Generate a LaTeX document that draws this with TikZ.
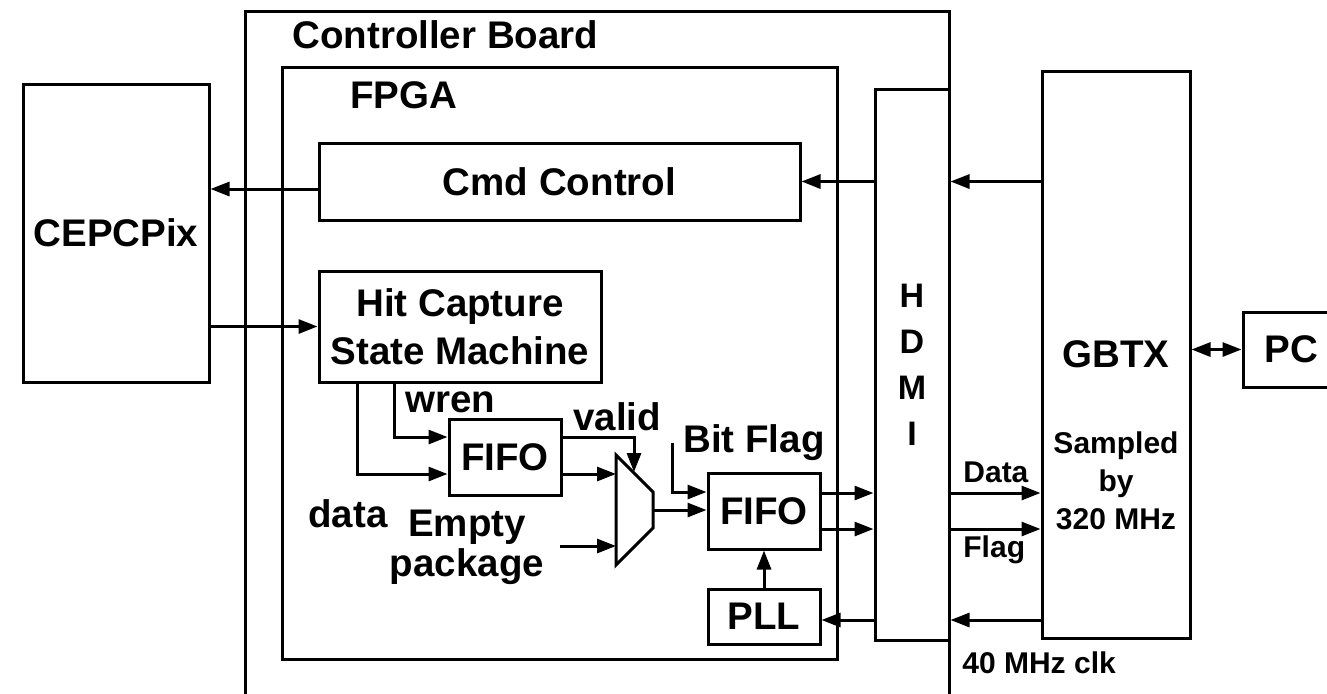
\documentclass[tikz,border=0pt]{standalone}
\usepackage{fontspec}
\setmainfont{Liberation Sans}
\usepackage{tikz}
\usetikzlibrary{arrows.meta, positioning, calc}

\newcommand{\mainsz}{\fontsize{19.25pt}{24pt}\selectfont\bfseries}
\newcommand{\notesz}{\fontsize{15pt}{19pt}\selectfont\bfseries}

\begin{document}
\begin{tikzpicture}[x=0.5pt, y=-0.5pt,
    box/.style={rectangle, draw, line width=1.5pt, inner sep=0pt, font=\mainsz, align=center},
    arr/.style={line width=1.5pt, -{Triangle[length=9.5pt,width=7pt]}},
    dblarr/.style={line width=1.5pt, {Triangle[length=9.5pt,width=7pt]}-{Triangle[length=9.5pt,width=7pt]}},
    lbl/.style={inner sep=0pt, font=\mainsz},
    note/.style={inner sep=0pt, font=\notesz, align=center}]
    \useasboundingbox (0,0) rectangle (1327,693);
    \clip (0,0) rectangle (1327,693);

    % Board and FPGA frames
    \node (board) [box, minimum width=352pt, minimum height=354.5pt] at (597,365.5) {};
    \node (fpga) [box, minimum width=277.5pt, minimum height=296pt] at (559.5,363) {};
    \node (boardlabel) [lbl, anchor=base west] at (292,48) {Controller Board};
    \node (fpgalabel) [lbl, anchor=base west] at (350,108) {FPGA};

    % Blocks
    \node (cepc) [box, minimum width=93pt, minimum height=149pt] at (116,233) {CEPCPix};
    \node (cmd) [box, minimum width=240.5pt, minimum height=38.5pt] at (559.5,181.5) {Cmd Control};
    \node (hit) [box, minimum width=141pt, minimum height=55.5pt] at (460,326.5) {Hit Capture\\State Machine};
    \node (fifoa) [box, minimum width=56pt, minimum height=38pt] at (505,457) {FIFO};
    \node (fifob) [box, minimum width=56pt, minimum height=38pt] at (764,511) {FIFO};
    \node (pll) [box, minimum width=56pt, minimum height=27.5pt, below=18.5pt of fifob] {PLL};
    \node (hdmi) [box, minimum width=37pt, minimum height=275.5pt, font=\fontsize{17pt}{23pt}\selectfont\bfseries] at (912,364.5) {H\\D\\M\\I};
    \node (gbtx) [box, minimum width=74pt, minimum height=283.5pt] at (1116,354.5) {GBTX};
    \node (gbtxnote) [note] at (1116,481) {Sampled\\by\\320 MHz};
    \node (pc) [box, minimum width=48.5pt, minimum height=37.5pt] at (1291.5,349.5) {PC};

    % Mux
    \draw[line width=1.5pt] (616,455) -- (653,492) -- (653,528) -- (616,565) -- cycle;
    \coordinate (muxin1) at (616,474);
    \coordinate (muxin2) at (616,546);
    \coordinate (muxsel) at (634,472);
    \coordinate (muxout) at (653,510);

    % Labels
    \node (wren) [lbl, anchor=base west] at (405,412) {wren};
    \node (valid) [lbl, anchor=base west] at (573,430) {valid};
    \node (bitflag) [lbl, anchor=base west] at (683,452) {Bit Flag};
    \node (datalabel) [lbl, anchor=base west] at (308,527) {data};
    \node (empty) [lbl, align=center, font=\fontsize{19.25pt}{20pt}\selectfont\bfseries] at (467,547) {Empty\\package};
    \node (datatx) [note, anchor=base west] at (963,482) {Data};
    \node (flagtx) [note, anchor=base west] at (963,557) {Flag};
    \node (clklabel) [note, anchor=base west] at (962,673) {40 MHz clk};

    % Connectors
    \coordinate (cmdout) at ([yshift=-3.75pt]cmd.west);
    \draw[arr] (cmdout) -- (cmdout -| cepc.east);
    \draw[arr] (hdmi.west |- cmd.east) -- (cmd.east);
    \draw[arr] (gbtx.west |- cmd.east) -- (hdmi.east |- cmd.east);
    \draw[arr] (cepc.east |- hit.west) -- (hit.west);
    \draw[arr] ([xshift=-33pt]hit.south) |- ([yshift=10pt]fifoa.west);
    \draw[arr] ([xshift=-51.5pt]hit.south) |- (fifoa.west |- muxin1);
    \draw[arr] ([yshift=10pt]fifoa.east) -| (muxsel);
    \draw[arr] (fifoa.east |- muxin1) -- (muxin1);
    \coordinate (emptyin) at (560,546);
    \draw[arr] (emptyin) -- (muxin2);
    \draw[arr] (muxout) -- (fifob.west |- muxout);
    \coordinate (bitin) at (672,443);
    \draw[arr] (bitin) |- ([yshift=9.5pt]fifob.west);
    \coordinate (dataout) at ([yshift=9pt]fifob.east);
    \coordinate (flagout) at ([yshift=-9pt]fifob.east);
    \draw[arr] (dataout) -- (dataout -| hdmi.west);
    \draw[arr] (flagout) -- (flagout -| hdmi.west);
    \draw[arr] (dataout -| hdmi.east) -- (dataout -| gbtx.west);
    \draw[arr] (flagout -| hdmi.east) -- (flagout -| gbtx.west);
    \coordinate (clkin) at ([yshift=-1.75pt]pll.east);
    \draw[arr] (clkin -| hdmi.west) -- (clkin);
    \draw[arr] (clkin -| gbtx.west) -- (clkin -| hdmi.east);
    \draw[arr] (pll.north) -- (fifob.south);
    \draw[dblarr] (gbtx.east |- pc.west) -- (pc.west);
\end{tikzpicture}
\end{document}
